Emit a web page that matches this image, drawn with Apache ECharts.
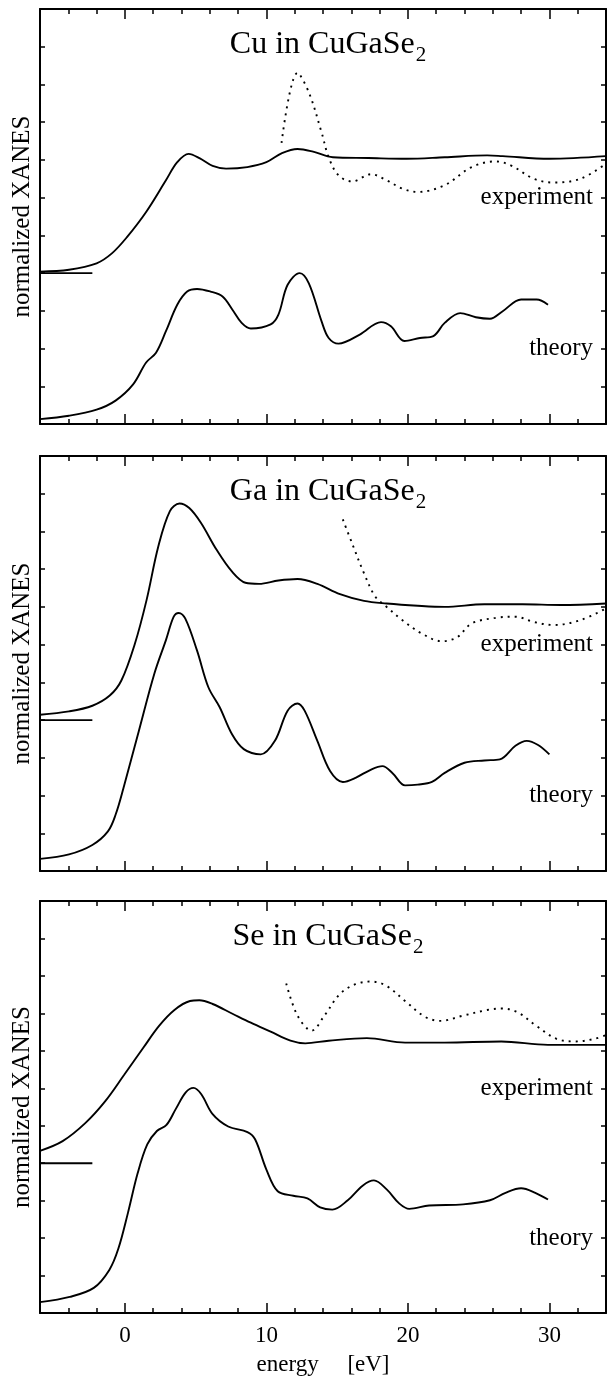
<!DOCTYPE html>
<html><head><meta charset="utf-8">
<script src="https://cdn.jsdelivr.net/npm/echarts@6/dist/echarts.min.js"></script>
<style>html,body{margin:0;padding:0;background:#fff}#c{width:607px;height:1377px}</style>
</head><body><div id="c"></div>
<script>
// ---------- data (x: energy in eV, y: normalized XANES, offset units) ----------
const panelTitles = ['Cu in CuGaSe', 'Ga in CuGaSe', 'Se in CuGaSe'];
const titleSub = '2';
const xTickLabels = [0, 10, 20, 30];
const rightTickLabels = { 6: 'experiment', 2: 'theory' };
const baselineX = [-6, -2.3];
const baselineY = 4;

const cuExperiment = [[-6,4.04],[-3.95,4.09],[-2,4.26],[-0.9,4.53],[0.16,4.96],[1.5,5.62],[2.9,6.46],[3.7,6.94],[4.5,7.16],[5.3,7.04],[6.2,6.84],[7.15,6.77],[8.65,6.81],[10,6.94],[11.1,7.18],[12.2,7.29],[13.3,7.22],[14.7,7.07],[17.2,7.05],[19.9,7.03],[22.6,7.07],[25.6,7.12],[26.7,7.10],[30,7.03],[34,7.10]];
const cuExperimentDotted = [[11.07,7.45],[12.2,9.31],[13.0,8.79],[13.9,7.73],[14.4,7.07],[15.1,6.59],[16.05,6.43],[17.4,6.62],[18.5,6.46],[19.6,6.24],[20.7,6.15],[22.6,6.33],[24.5,6.81],[26.2,6.96],[27.3,6.85],[28.9,6.50],[30.3,6.40],[32.2,6.50],[34,6.90]];
const cuTheory = [[-6,0.13],[-3.95,0.22],[-2,0.38],[-0.66,0.62],[0.58,1.05],[1.5,1.63],[2.2,1.89],[2.9,2.46],[3.7,3.16],[4.4,3.51],[5.1,3.58],[6.05,3.51],[6.9,3.38],[7.6,3.03],[8.25,2.68],[8.9,2.53],[10.3,2.64],[10.85,2.90],[11.5,3.69],[12.35,4.0],[13.0,3.73],[13.9,2.72],[14.4,2.28],[15.1,2.13],[16.6,2.37],[18.1,2.70],[18.8,2.59],[19.75,2.20],[20.85,2.28],[21.8,2.33],[22.6,2.68],[23.7,2.94],[24.8,2.83],[25.8,2.79],[26.7,2.99],[28.0,3.30],[29.1,3.30],[29.9,3.16]];

const gaExperiment = [[-6,4.14],[-3.95,4.23],[-2.3,4.38],[-1.07,4.65],[-0.25,5.05],[0.71,6.03],[1.53,7.18],[2.36,8.6],[3.18,9.54],[3.86,9.74],[4.55,9.62],[5.37,9.23],[6.47,8.52],[7.56,7.94],[8.52,7.64],[9.48,7.61],[10.85,7.70],[12.2,7.74],[13.6,7.61],[15.2,7.34],[16.9,7.16],[18.5,7.09],[20.7,7.03],[22.6,7.0],[25.4,7.07],[28.1,7.07],[30.8,7.05],[34,7.09]];
const gaExperimentDotted = [[15.4,9.32],[16.05,8.69],[16.9,7.89],[17.7,7.27],[18.5,7.0],[19.6,6.65],[21.0,6.29],[22.4,6.09],[23.5,6.2],[24.5,6.56],[26.2,6.71],[27.6,6.74],[28.9,6.6],[30.3,6.52],[32.2,6.65],[34,6.96]];
const gaTheory = [[-6,0.32],[-3.95,0.44],[-2.3,0.69],[-1.2,1.05],[-0.66,1.49],[-0.1,2.2],[0.99,3.72],[2.08,5.23],[2.9,6.12],[3.45,6.74],[3.8,6.84],[4.27,6.69],[5.1,5.84],[5.9,4.87],[6.7,4.34],[7.56,3.63],[8.4,3.23],[9.6,3.09],[10.6,3.45],[11.5,4.25],[12.2,4.44],[12.7,4.25],[13.6,3.45],[14.5,2.65],[15.4,2.36],[16.3,2.47],[17.4,2.69],[18.2,2.78],[18.9,2.6],[19.8,2.27],[20.7,2.29],[21.7,2.36],[22.6,2.6],[24.0,2.87],[25.4,2.93],[26.5,2.96],[27.6,3.32],[28.4,3.45],[29.2,3.34],[30.0,3.09]];

const seExperiment = [[-6,4.33],[-4.4,4.59],[-2.8,5.07],[-1.4,5.65],[-0.05,6.36],[1.3,7.08],[2.4,7.66],[3.5,8.09],[4.6,8.33],[5.26,8.35],[6.2,8.25],[7.6,7.99],[8.9,7.75],[10.3,7.51],[11.7,7.27],[12.75,7.2],[14.4,7.27],[17.1,7.34],[19.8,7.22],[22.6,7.22],[26.6,7.25],[29.9,7.16],[34,7.16]];
const seExperimentDotted = [[11.4,8.8],[12.2,7.94],[13.2,7.54],[14.1,7.94],[15.2,8.52],[16.3,8.78],[17.4,8.85],[18.5,8.73],[19.8,8.33],[21.2,7.91],[22.3,7.8],[23.9,7.94],[25.6,8.09],[26.6,8.13],[27.7,8.04],[29.1,7.66],[30.5,7.32],[31.8,7.25],[33.2,7.32],[34,7.42]];
const seTheory = [[-6,0.29],[-3.9,0.43],[-2.2,0.67],[-1.1,1.15],[-0.46,1.72],[0.22,2.68],[0.9,3.73],[1.58,4.5],[2.26,4.86],[2.94,5.02],[3.6,5.45],[4.3,5.89],[4.85,6.01],[5.4,5.84],[6.2,5.31],[7.3,4.98],[8.66,4.83],[9.2,4.64],[10.0,3.83],[10.8,3.25],[11.9,3.13],[12.9,3.06],[13.8,2.82],[14.66,2.76],[15.75,3.01],[16.8,3.4],[17.6,3.54],[18.5,3.3],[19.4,2.92],[20.1,2.78],[21.5,2.87],[23.9,2.9],[25.8,3.01],[26.9,3.21],[28.0,3.33],[29.0,3.21],[29.9,3.03]];

const panels = [
  { exp: cuExperiment, dot: cuExperimentDotted, th: cuTheory },
  { exp: gaExperiment, dot: gaExperimentDotted, th: gaTheory },
  { exp: seExperiment, dot: seExperimentDotted, th: seTheory }
];

// ---------- layout ----------
const FONT = 'Liberation Serif';
const gridTops = [9, 456, 901];
const gridH = 415, gridL = 40, gridW = 566;
const xMin = -6, xMax = 34, yMin = 0, yMax = 11;

const grid = [], xAxis = [], yAxis = [], series = [], title = [];
const axLine = { show: true, onZero: false, lineStyle: { color: '#000', width: 2 } };
const tickStyle = { color: '#000', width: 1.5 };

gridTops.forEach((top, p) => {
  grid.push({ left: gridL, top: top, width: gridW, height: gridH });
  const last = p === gridTops.length - 1;
  ['bottom', 'top'].forEach(pos => {
    // minor ticks every 2 eV
    xAxis.push({ type: 'value', gridIndex: p, position: pos, min: xMin, max: xMax, interval: 2,
      axisLine: axLine, axisTick: { show: true, inside: true, length: 5, lineStyle: tickStyle },
      axisLabel: { show: false }, splitLine: { show: false } });
    // major ticks at 0,10,20,30
    xAxis.push({ type: 'value', gridIndex: p, position: pos, min: xMin, max: xMax, splitNumber: 4,
      axisLine: { show: false, onZero: false }, axisTick: { show: true, inside: true, length: 10, lineStyle: tickStyle },
      axisLabel: { show: last && pos === 'bottom', margin: 11, color: '#000', fontFamily: FONT, fontSize: 23,
        showMinLabel: false, showMaxLabel: false,
        formatter: v => xTickLabels.indexOf(v) >= 0 ? String(v) : '' },
      name: (last && pos === 'bottom') ? 'energy     [eV]' : '', nameLocation: 'middle', nameGap: 40,
      nameTextStyle: { color: '#000', fontFamily: FONT, fontSize: 23 },
      splitLine: { show: false } });
  });
  yAxis.push({ type: 'value', gridIndex: p, position: 'left', min: yMin, max: yMax, interval: 1,
    axisLine: axLine, axisTick: { show: true, inside: true, length: 5, lineStyle: tickStyle },
    axisLabel: { show: false }, splitLine: { show: false },
    name: 'normalized XANES', nameLocation: 'middle', nameGap: 5,
    nameTextStyle: { color: '#000', fontFamily: FONT, fontSize: 25 } });
  yAxis.push({ type: 'value', gridIndex: p, position: 'right', min: yMin, max: yMax, interval: 1,
    axisLine: axLine, axisTick: { show: true, inside: true, length: 5, lineStyle: tickStyle },
    axisLabel: { show: true, inside: true, margin: 13, color: '#000', fontFamily: FONT, fontSize: 25,
      showMinLabel: false, showMaxLabel: false,
      formatter: v => rightTickLabels[v] || '' },
    splitLine: { show: false } });

  const xi = p * 4, yi = p * 2;
  const d = panels[p];
  const base = { type: 'line', xAxisIndex: xi, yAxisIndex: yi, showSymbol: false, symbol: 'none', silent: true, animation: false };
  series.push(Object.assign({}, base, { data: d.exp, smooth: 0.35, lineStyle: { color: '#000', width: 1.9 } }));
  series.push(Object.assign({}, base, { data: d.dot, smooth: 0.35, lineStyle: { color: '#000', width: 1.9, type: [2, 5] } }));
  series.push(Object.assign({}, base, { data: d.th, smooth: 0.35, lineStyle: { color: '#000', width: 1.9 } }));
  series.push(Object.assign({}, base, { data: baselineX.map(x => [x, baselineY]), lineStyle: { color: '#000', width: 1.9 } }));

  title.push({ text: '{m|' + panelTitles[p] + '}{s|' + titleSub + '}', left: gridL + (14 - xMin) * gridW / (xMax - xMin),
    top: top + 18, textAlign: 'center',
    textStyle: { fontWeight: 'normal', rich: {
      m: { fontFamily: FONT, fontSize: 32, fontWeight: 'normal', color: '#000', verticalAlign: 'bottom', lineHeight: 34, padding: [0, 0, 5, 0] },
      s: { fontFamily: FONT, fontSize: 21, fontWeight: 'normal', color: '#000', verticalAlign: 'bottom', lineHeight: 22, padding: [0, 0, 0, 1] }
    } } });
});

const chart = echarts.init(document.getElementById('c'), null, { renderer: 'canvas' });
chart.setOption({ backgroundColor: '#fff', animation: false, title, grid, xAxis, yAxis, series });
</script></body></html>
